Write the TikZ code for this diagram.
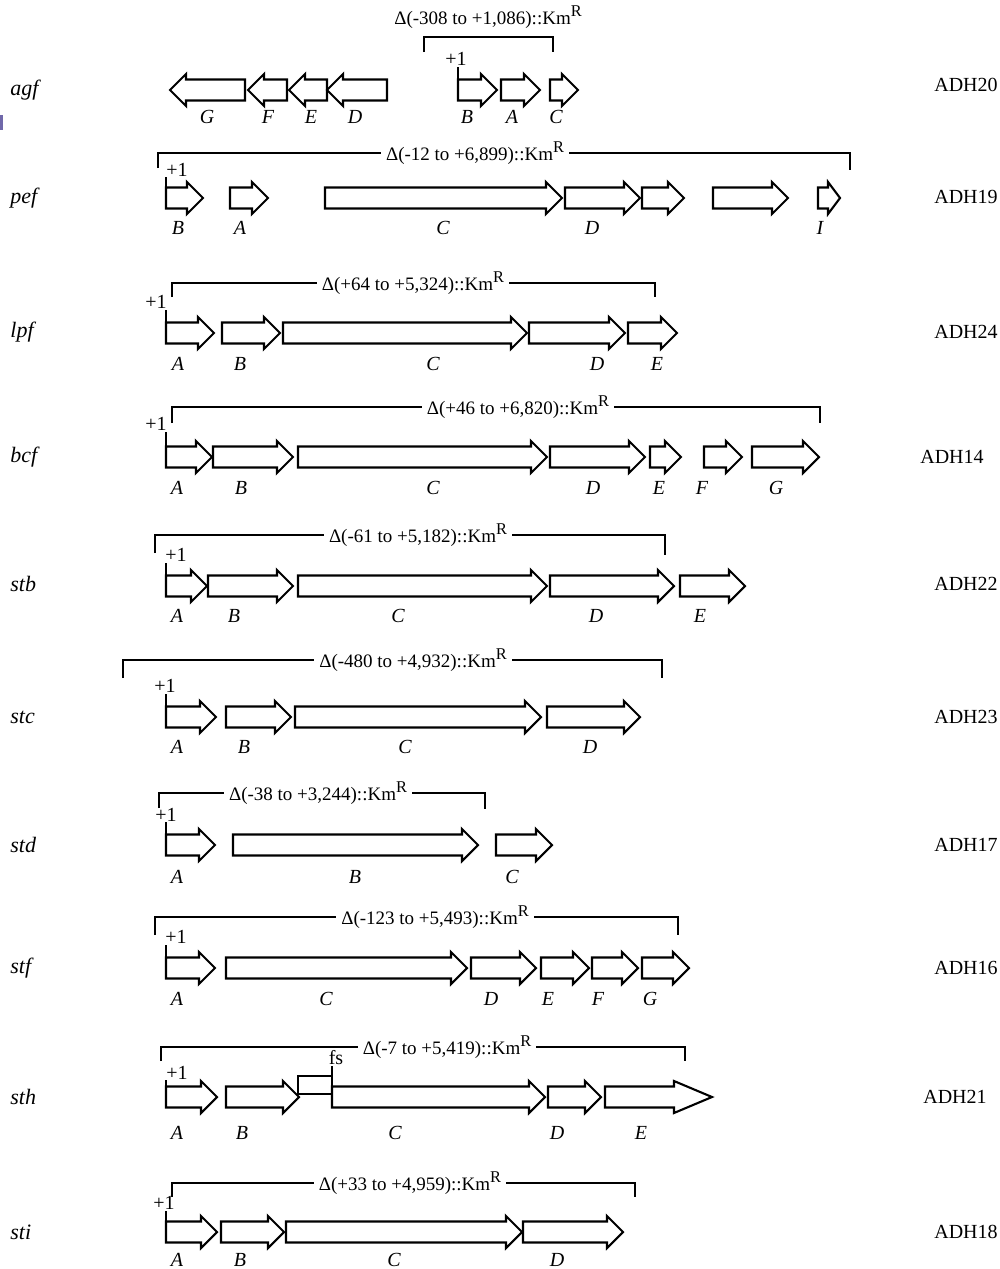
\documentclass[tikz,border=0pt]{standalone}
\usepackage{fontspec}
\setmainfont{Liberation Serif}

% half-heights of a gene body and of its arrow head
\newcommand\gbh{10.5}
\newcommand\ghh{16}

% right-pointing gene: [head length]{name}{left x}{tip x}{row y}
\newcommand\geneR[5][16]{%
  \draw[gene] ({#3},{#5-\gbh}) -- ({#4-#1},{#5-\gbh}) -- ({#4-#1},{#5-\ghh})
    -- ({#4},{#5}) -- ({#4-#1},{#5+\ghh}) -- ({#4-#1},{#5+\gbh})
    -- ({#3},{#5+\gbh}) -- cycle;
  \coordinate (#2) at ({(#3+#4)/2},{#5});}

% left-pointing gene: [head length]{name}{tip x}{right x}{row y}
\newcommand\geneL[5][16]{%
  \draw[gene] ({#4},{#5-\gbh}) -- ({#3+#1},{#5-\gbh}) -- ({#3+#1},{#5-\ghh})
    -- ({#3},{#5}) -- ({#3+#1},{#5+\ghh}) -- ({#3+#1},{#5+\gbh})
    -- ({#4},{#5+\gbh}) -- cycle;
  \coordinate (#2) at ({(#3+#4)/2},{#5});}

% deletion bracket: {name}{left x}{right x}{top y}{left tick}{right tick}{label x}{label}
\newcommand\kmbr[8]{%
  \draw[bline] ({#2},{#4+#5}) -- ({#2},{#4}) -- ({#3},{#4}) -- ({#3},{#4+#6});
  \node[dlabel] (#1) at ({#7},{#4}) {#8};}

% transcription start: {name}{text x}{text y}{line x}{line top}{line bottom}
\newcommand\startmark[6]{%
  \node[ptext] (#1) at ({#2},{#3}) {+1};
  \draw[bline] ({#4},{#5}) -- ({#4},{#6});}

\newcommand\supR{\raisebox{0.85ex}{\fontsize{8.2}{9}\selectfont R}}
\newcommand\kmdel[1]{Δ(#1)::Km\supR}

\tikzset{
  gene/.style={draw=black, line width=1.05pt, line join=miter, fill=white},
  bline/.style={draw=black, line width=0.95pt},
  dlabel/.style={fill=white, inner xsep=2.5pt, inner ysep=1pt, font=\fontsize{9.5}{11}\selectfont},
  ptext/.style={inner sep=0pt, font=\fontsize{10}{12}\selectfont},
  glabel/.style={inner sep=0pt, font=\fontsize{10}{12}\selectfont\itshape},
  opname/.style={anchor=west, inner sep=0pt, font=\fontsize{11}{13}\selectfont\itshape},
  strain/.style={inner sep=0pt, font=\fontsize{10}{12}\selectfont},
}

\begin{document}
\begin{tikzpicture}[x=0.5pt, y=-0.5pt]
\path[use as bounding box, fill=white] (0,0) rectangle (1000,1269);
\fill[fill={rgb,255:red,112;green,104;blue,170}] (0,115) rectangle (3,130);

% ---------------- agf ----------------
\node[opname] (agf) at (10,90) {agf};
\node[strain] (adh20) at (966,85) {ADH20};
\draw[bline] (424,52) -- (424,37) -- (553,37) -- (553,52);
\node[ptext] (agfdel) at (488,17) {\fontsize{9.5}{11}\selectfont\kmdel{-308 to +1,086}};
\startmark{agfp}{456}{59}{458}{67}{80}
\geneL{agfG}{170}{245}{90}
\geneL{agfF}{248}{287}{90}
\geneL{agfE}{289}{327}{90}
\geneL{agfD}{327}{387}{90}
\geneR{agfB}{458}{497}{90}
\geneR{agfA}{501}{540}{90}
\geneR{agfC}{550}{578}{90}
\foreach \n/\x in {G/207,F/268,E/311,D/355,B/467,A/512,C/556}
  \node[glabel] (agfl\n) at (\x,117) {\n};

% ---------------- pef ----------------
\node[opname] (pef) at (10,198) {pef};
\node[strain] (adh19) at (966,197) {ADH19};
\kmbr{pefdel}{158}{850}{153}{15}{17}{475}{\kmdel{-12 to +6,899}}
\startmark{pefp}{177}{170}{166}{177}{188}
\geneR{pefB}{166}{203}{198}
\geneR{pefA}{230}{268}{198}
\geneR{pefC}{325}{562}{198}
\geneR{pefD}{565}{640}{198}
\geneR{pefE}{642}{684}{198}
\geneR{pefF}{713}{788}{198}
\geneR[12]{pefI}{818}{840}{198}
\foreach \n/\x in {B/178,A/240,C/443,D/592,I/820}
  \node[glabel] (pefl\n) at (\x,228) {\n};

% ---------------- lpf ----------------
\node[opname] (lpf) at (10,332) {lpf};
\node[strain] (adh24) at (966,332) {ADH24};
\kmbr{lpfdel}{172}{655}{283}{14}{14}{413}{\kmdel{+64 to +5,324}}
\startmark{lpfp}{156}{302}{166}{310}{322}
\geneR{lpfA}{166}{214}{333}
\geneR{lpfB}{222}{280}{333}
\geneR{lpfC}{283}{527}{333}
\geneR{lpfD}{529}{625}{333}
\geneR{lpfE}{628}{677}{333}
\foreach \n/\x in {A/178,B/240,C/433,D/597,E/657}
  \node[glabel] (lpfl\n) at (\x,364) {\n};

% ---------------- bcf ----------------
\node[opname] (bcf) at (10,457) {bcf};
\node[strain] (adh14) at (952,457) {ADH14};
\kmbr{bcfdel}{172}{820}{407}{16}{16}{518}{\kmdel{+46 to +6,820}}
\startmark{bcfp}{156}{424}{166}{432}{447}
\geneR{bcfA}{166}{212}{457}
\geneR{bcfB}{213}{293}{457}
\geneR{bcfC}{298}{547}{457}
\geneR{bcfD}{550}{645}{457}
\geneR{bcfE}{650}{681}{457}
\geneR{bcfF}{704}{742}{457}
\geneR{bcfG}{752}{819}{457}
\foreach \n/\x in {A/177,B/241,C/433,D/593,E/659,F/702,G/776}
  \node[glabel] (bcfl\n) at (\x,488) {\n};

% ---------------- stb ----------------
\node[opname] (stb) at (10,584) {stb};
\node[strain] (adh22) at (966,584) {ADH22};
\kmbr{stbdel}{155}{665}{535}{18}{20}{418}{\kmdel{-61 to +5,182}}
\startmark{stbp}{176}{555}{166}{563}{576}
\geneR{stbA}{166}{207}{586}
\geneR{stbB}{208}{293}{586}
\geneR{stbC}{298}{547}{586}
\geneR{stbD}{550}{674}{586}
\geneR{stbE}{680}{745}{586}
\foreach \n/\x in {A/177,B/234,C/398,D/596,E/700}
  \node[glabel] (stbl\n) at (\x,616) {\n};

% ---------------- stc ----------------
\node[opname] (stc) at (10,717) {stc};
\node[strain] (adh23) at (966,717) {ADH23};
\kmbr{stcdel}{123}{662}{660}{18}{18}{413}{\kmdel{-480 to +4,932}}
\startmark{stcp}{165}{686}{166}{694}{707}
\geneR{stcA}{166}{216}{717}
\geneR{stcB}{226}{291}{717}
\geneR{stcC}{295}{541}{717}
\geneR{stcD}{547}{640}{717}
\foreach \n/\x in {A/177,B/244,C/405,D/590}
  \node[glabel] (stcl\n) at (\x,747) {\n};

% ---------------- std ----------------
\node[opname] (std) at (10,845) {std};
\node[strain] (adh17) at (966,845) {ADH17};
\kmbr{stddel}{159}{485}{793}{15}{16}{318}{\kmdel{-38 to +3,244}}
\startmark{stdp}{166}{815}{166}{822}{835}
\geneR{stdA}{166}{215}{845}
\geneR{stdB}{233}{478}{845}
\geneR{stdC}{496}{552}{845}
\foreach \n/\x in {A/177,B/355,C/512}
  \node[glabel] (stdl\n) at (\x,877) {\n};

% ---------------- stf ----------------
\node[opname] (stf) at (10,968) {stf};
\node[strain] (adh16) at (966,968) {ADH16};
\kmbr{stfdel}{155}{678}{917}{18}{18}{435}{\kmdel{-123 to +5,493}}
\startmark{stfp}{176}{937}{166}{945}{958}
\geneR{stfA}{166}{215}{968}
\geneR{stfC}{226}{467}{968}
\geneR{stfD}{471}{536}{968}
\geneR{stfE}{541}{589}{968}
\geneR{stfF}{592}{638}{968}
\geneR{stfG}{642}{689}{968}
\foreach \n/\x in {A/177,C/326,D/491,E/548,F/598,G/650}
  \node[glabel] (stfl\n) at (\x,999) {\n};

% ---------------- sth ----------------
\node[opname] (sth) at (10,1097) {sth};
\node[strain] (adh21) at (955,1097) {ADH21};
\kmbr{sthdel}{161}{685}{1047}{14}{14}{447}{\kmdel{-7 to +5,419}}
\startmark{sthp}{177}{1073}{166}{1080}{1087}
\geneR{sthA}{166}{217}{1097}
\geneR{sthB}{226}{299}{1097}
% frameshifted C: short upstream frame plus the main reading frame
\draw[gene] (298,1076) rectangle (332,1094);
\node[ptext] (sthfs) at (336,1058) {fs};
\draw[bline] (332,1066) -- (332,1087);
\geneR{sthC}{332}{545}{1097}
\geneR{sthD}{548}{601}{1097}
\geneR[38]{sthE}{605}{712}{1097}
\foreach \n/\x in {A/177,B/242,C/395,D/557,E/641}
  \node[glabel] (sthl\n) at (\x,1133) {\n};

% ---------------- sti ----------------
\node[opname] (sti) at (10,1232) {sti};
\node[strain] (adh18) at (966,1232) {ADH18};
\kmbr{stidel}{172}{635}{1183}{14}{14}{410}{\kmdel{+33 to +4,959}}
\startmark{stip}{164}{1203}{166}{1211}{1222}
\geneR{stiA}{166}{217}{1232}
\geneR{stiB}{221}{284}{1232}
\geneR{stiC}{286}{522}{1232}
\geneR{stiD}{523}{623}{1232}
\foreach \n/\x in {A/177,B/240,C/394,D/557}
  \node[glabel] (stil\n) at (\x,1260) {\n};
\end{tikzpicture}
\end{document}
